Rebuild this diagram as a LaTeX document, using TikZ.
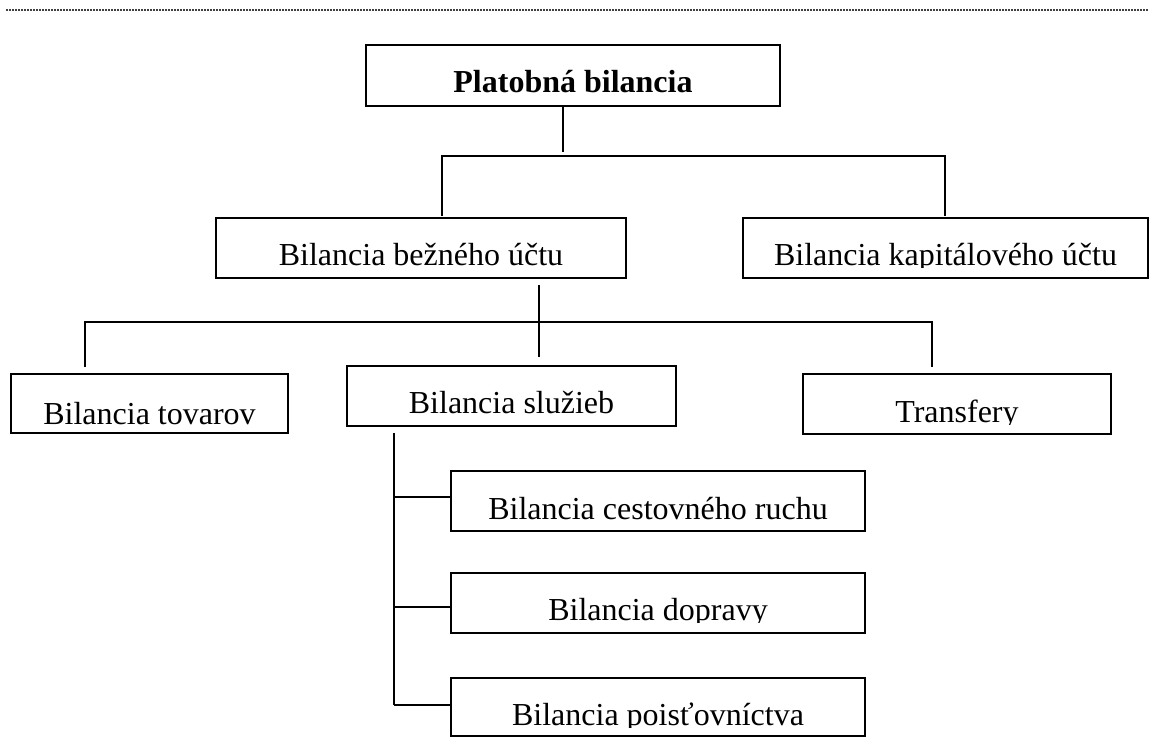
\documentclass[tikz,border=0pt]{standalone}
\usepackage{fontspec}
\setmainfont{Liberation Serif}
\newcommand{\orgbox}[7]{%
  \node[orgrect, minimum width={#4-#2}, minimum height={#5-#3}, anchor=north west] (#1) at (#2,#3) {};
  \begin{scope}
    \clip (#2,#3) rectangle (#4,#6+2.5);
    \node[lbl, anchor=base] (#1-t) at ({(#2+#4)/2},#6) {#7};
  \end{scope}}
\begin{document}
\begin{tikzpicture}[x=1pt,y=-1pt,
  orgrect/.style={draw=black, line width=2pt, inner sep=0pt, outer sep=0pt, fill=white},
  lbl/.style={inner sep=0pt, outer sep=0pt, font=\fontsize{32}{38}\selectfont},
  conn/.style={draw=black, line width=2pt},
  rule/.style={draw=black!75, line width=2pt, dash pattern=on 1.5pt off 1.5pt}]
\useasboundingbox[fill=white] (0,0) rectangle (1156,738);
% top dotted rule
\coordinate (r1) at (6,10);
\coordinate (r2) at (1148,10);
\draw[rule] (r1) -- (r2);
% boxes
\orgbox{top}{366}{45}{780}{106}{93}{\bfseries Platobná bilancia}
\orgbox{bez}{216}{218}{626}{278}{265}{Bilancia bežného účtu}
\orgbox{kap}{743}{218}{1148}{278}{265}{Bilancia kapitálového účtu}
\orgbox{tov}{11}{374}{288}{433}{424}{Bilancia tovarov}
\orgbox{slu}{347}{366}{676}{426}{413}{Bilancia služieb}
\orgbox{tra}{803}{374}{1111}{434}{422}{Transfery}
\orgbox{ces}{451}{471}{865}{531}{519}{Bilancia cestovného ruchu}
\orgbox{dop}{451}{573}{865}{633}{620}{Bilancia dopravy}
\orgbox{poi}{451}{678}{865}{736}{725}{Bilancia poisťovníctva}
% level 1 connectors
\coordinate (s1) at (563,152);
\coordinate (h1l) at (442,156);
\coordinate (h1r) at (945,156);
\coordinate (b1l) at (442,216);
\coordinate (b1r) at (945,216);
\draw[conn] (top.south -| s1) -- (s1);
\draw[conn] (b1l) -- (h1l) -- (h1r) -- (b1r);
% level 2 connectors
\coordinate (s2a) at (539,285);
\coordinate (s2b) at (539,357);
\coordinate (h2l) at (85,322);
\coordinate (h2r) at (932,322);
\coordinate (b2l) at (85,367);
\coordinate (b2r) at (932,367);
\draw[conn] (s2a) -- (s2b);
\draw[conn] (b2l) -- (h2l) -- (h2r) -- (b2r);
% level 3 connectors
\coordinate (v3a) at (394,433);
\coordinate (v3b) at (394,705);
\draw[conn] (v3a) -- (v3b);
\draw[conn] (394,497) -- (ces.west |- 0,497);
\draw[conn] (394,607) -- (dop.west |- 0,607);
\draw[conn] (v3b) -- (poi.west |- v3b);
\end{tikzpicture}
\end{document}
